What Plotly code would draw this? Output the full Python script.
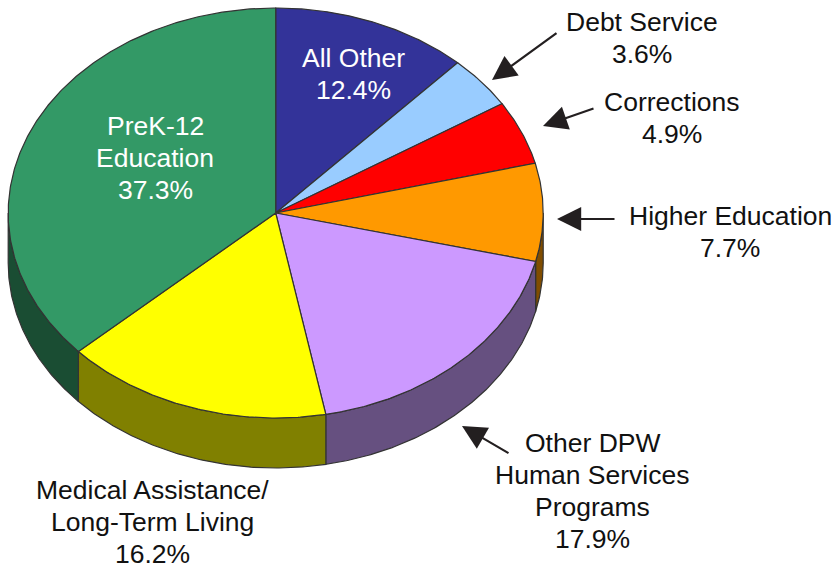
import math
import plotly.graph_objects as go

categories = ["All Other", "Debt Service", "Corrections", "Higher Education",
              "Other DPW Human Services Programs", "Medical Assistance/Long-Term Living",
              "PreK-12 Education"]
# Percentages as printed on the chart.
printed_percent = ["12.4%", "3.6%", "4.9%", "7.7%", "17.9%", "16.2%", "37.3%"]
slice_shares = [11.9, 4.15, 5.05, 7.7, 18.2, 16.2, 36.8]
top_colors = ["#333399", "#99ccff", "#ff0000", "#ff9900", "#cc99ff", "#ffff00", "#339966"]
side_colors = ["#1a1a4d", "#4d6680", "#800000", "#804d00", "#665080", "#808000", "#1a4d33"]
label_lines = [["All Other"], ["Debt Service"], ["Corrections"], ["Higher Education"],
               ["Other DPW", "Human Services", "Programs"],
               ["Medical Assistance/", "Long-Term Living"], ["PreK-12", "Education"]]
label_centers = [(353, 58), (642, 22), (672, 102), (730, 216), (592, 443), (152, 490), (155, 126)]
label_colors = ["white", "#111111", "#111111", "#111111", "#111111", "#111111", "white"]
arrows = [(558, 32, 492, 80), (595, 108, 543, 126), (616, 219, 557, 219), (510, 454, 462, 426)]

W, H = 833, 564
CX, CY, RX, RY, DEPTH = 275.7, 213, 267.5, 205, 50
PITCH = 32
FONT = "Liberation Sans, Arial, sans-serif"
EDGE = "#333333"


def rim(a0, a1, dy=0.0):
    n = max(2, int(abs(a1 - a0) / 0.5) + 1)
    ts = [a0 + (a1 - a0) * i / (n - 1) for i in range(n)]
    return ([CX + RX * math.sin(t * math.pi / 180) for t in ts],
            [CY + dy - RY * math.cos(t * math.pi / 180) for t in ts])


fig = go.Figure()
edges = []
acc = 0.0
for v in slice_shares:
    edges.append((acc * 3.6, (acc + v) * 3.6))
    acc += v

# side walls (front half only)
for (a0, a1), col in zip(edges, side_colors):
    s0, s1 = max(a0, 90), min(a1, 270)
    if s1 <= s0:
        continue
    xa, ya = rim(s0, s1)
    xb, yb = rim(s1, s0, DEPTH)
    fig.add_trace(go.Scatter(x=xa + xb + xa[:1], y=ya + yb + ya[:1], mode="lines", fill="toself",
                             fillcolor=col, line=dict(color=EDGE, width=1.2), hoverinfo="skip",
                             showlegend=False))

# top faces
for (a0, a1), col, name in zip(edges, top_colors, categories):
    xa, ya = rim(a0, a1)
    fig.add_trace(go.Scatter(x=[CX] + xa + [CX], y=[CY] + ya + [CY], mode="lines", fill="toself",
                             fillcolor=col, line=dict(color=EDGE, width=1.2), name=name,
                             showlegend=False))

annotations = []
for lines, pct, (x, y), c in zip(label_lines, printed_percent, label_centers, label_colors):
    for i, t in enumerate(lines + [pct]):
        annotations.append(dict(x=x, y=y + i * PITCH, xref="x", yref="y", text=t, showarrow=False,
                                xanchor="center", yanchor="middle",
                                font=dict(family=FONT, size=26.5, color=c)))
for x0, y0, x1, y1 in arrows:
    annotations.append(dict(x=x1, y=y1, ax=x0, ay=y0, xref="x", yref="y", axref="x", ayref="y",
                            text="", showarrow=True, arrowhead=2, arrowsize=2.2, arrowwidth=2.2,
                            arrowcolor="#231f20", standoff=0, startstandoff=0))

fig.update_layout(
    width=W, height=H, margin=dict(l=0, r=0, t=0, b=0),
    paper_bgcolor="white", plot_bgcolor="white", showlegend=False,
    xaxis=dict(range=[0, W], visible=False, fixedrange=True),
    yaxis=dict(range=[H, 0], visible=False, fixedrange=True),
    annotations=annotations,
)
fig.write_html("out.html", config={"displayModeBar": False},
               post_script="document.body.style.margin='0';document.body.style.overflow='hidden';")
